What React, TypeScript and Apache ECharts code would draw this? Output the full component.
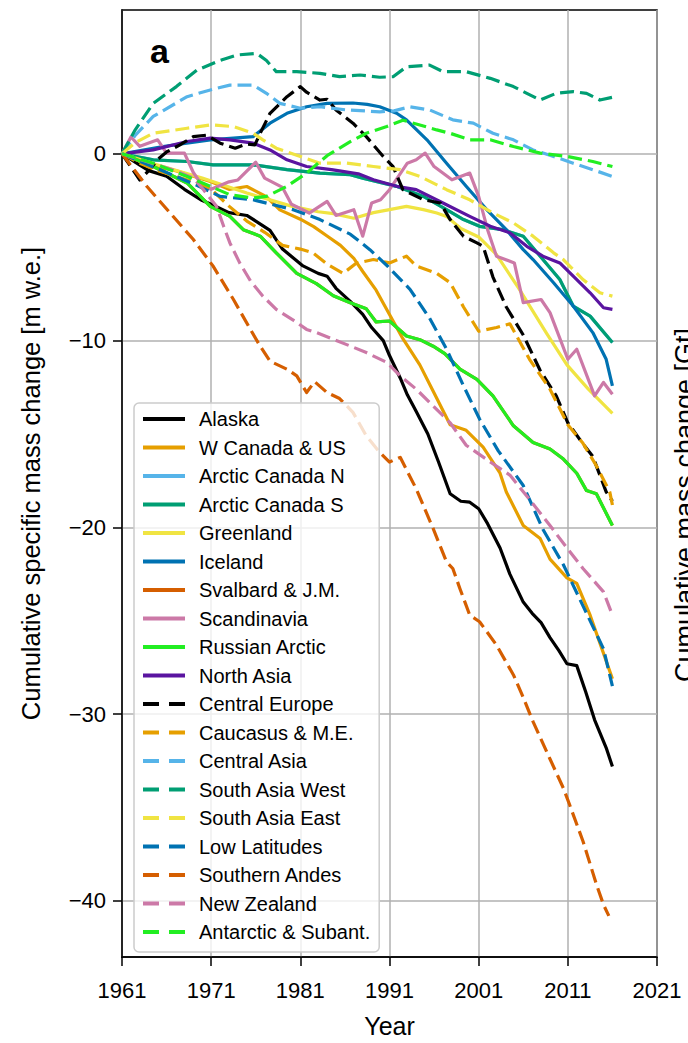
import React, { useEffect, useRef } from "react";
import * as echarts from "echarts";

const FONT = '"Liberation Sans", Arial, Helvetica, sans-serif';

const alaska: [number, number][] = [[1961,0],[1962,-0.3],[1963,-0.6],[1964,-0.9],[1966,-1.2],[1968,-1.9],[1970,-2.5],[1971,-2.7],[1973,-3.15],[1975,-3.3],[1976,-3.6],[1977.6,-4.1],[1979,-5.1],[1981.3,-6.0],[1983,-6.4],[1984,-6.55],[1985,-7.2],[1986.6,-7.9],[1988,-8.6],[1989,-9.3],[1990.3,-10.0],[1991,-10.8],[1992.2,-12.0],[1993,-12.9],[1994,-13.8],[1995.3,-15.0],[1996.5,-16.5],[1997.8,-18.2],[1999,-18.6],[2000,-18.65],[2001,-19.0],[2002,-19.8],[2003.4,-21.1],[2004.5,-22.5],[2006,-24.0],[2007,-24.6],[2008,-25.1],[2009,-25.9],[2010,-26.6],[2010.9,-27.3],[2012,-27.4],[2013,-28.8],[2014,-30.3],[2015.3,-31.8],[2016,-32.8]];
const wCanadaUS: [number, number][] = [[1961,0],[1963,-0.4],[1965,-0.7],[1967,-0.9],[1969,-1.2],[1971,-1.5],[1973,-1.9],[1975,-1.75],[1976,-2.0],[1977.2,-2.3],[1978.7,-3.0],[1981,-3.5],[1982.5,-3.9],[1984,-4.4],[1985.5,-4.9],[1987,-5.6],[1988,-6.3],[1989.5,-7.3],[1991,-8.6],[1992.5,-9.9],[1994.4,-11.3],[1996,-12.8],[1997.8,-14.5],[1999.6,-14.8],[2001.5,-15.7],[2003.4,-17.1],[2004.1,-18.1],[2006,-19.9],[2007.9,-20.6],[2009,-21.7],[2010.9,-22.7],[2012,-23.0],[2013.5,-24.7],[2016,-28.1]];
const arcticCanadaN: [number, number][] = [[1961,0],[1964.5,-0.32],[1968.3,-0.41],[1971.2,-0.59],[1975.7,-0.59],[1979.5,-0.85],[1983.2,-1.03],[1986.6,-1.12],[1988,-1.3],[1991.8,-1.74],[1994.8,-2.28],[1997.4,-2.99],[1999.3,-3.52],[2001.1,-3.88],[2003.7,-4.06],[2006,-4.41],[2007.9,-5.48],[2010.1,-6.73],[2011.6,-8.15],[2013.5,-8.69],[2016,-10.1]];
const arcticCanadaS: [number, number][] = [[1961,0],[1964.5,-0.32],[1968.3,-0.41],[1971.2,-0.59],[1975.7,-0.59],[1979.5,-0.85],[1983.2,-1.03],[1986.6,-1.12],[1988,-1.3],[1991.8,-1.74],[1994.8,-2.28],[1997.4,-2.99],[1999.3,-3.52],[2001.1,-3.88],[2003.7,-4.06],[2006,-4.41],[2007.9,-5.48],[2010.1,-6.73],[2011.6,-8.15],[2013.5,-8.69],[2016,-10.1]];
const greenland: [number, number][] = [[1961,0],[1965,-0.6],[1970,-1.3],[1975,-2.1],[1980,-2.8],[1983,-3.1],[1984.7,-3.2],[1987,-3.45],[1989.2,-3.15],[1991,-2.99],[1992.9,-2.81],[1994.8,-2.99],[1996.3,-3.17],[1997.4,-3.35],[1999,-4.0],[2001,-4.45],[2003,-5.4],[2005.5,-7.2],[2008.6,-9.6],[2010.9,-11.3],[2013.3,-12.6],[2016,-13.9]];
const iceland: [number, number][] = [[1961,0],[1965.6,0.39],[1970.9,0.75],[1975.7,0.92],[1977.6,1.64],[1979.5,2.17],[1981.7,2.52],[1984,2.7],[1986.9,2.72],[1988.5,2.65],[1989.9,2.52],[1991.8,2.17],[1992.9,1.82],[1995.2,0.75],[1997.4,-0.5],[1999.6,-1.74],[2001.9,-2.99],[2004.1,-4.06],[2006,-5.13],[2007.1,-5.66],[2009.4,-6.9],[2011.6,-8.15],[2013.8,-9.57],[2015.3,-11.0],[2016,-12.42]];
const svalbardJM: [number, number][] = [[1961,0],[1964.5,-0.68],[1968.3,-1.56],[1970.9,-2.81],[1973.1,-3.35],[1974.6,-4.06],[1976.5,-4.41],[1978.3,-5.3],[1980.6,-6.4],[1982.8,-6.95],[1984.7,-7.6],[1986.6,-7.97],[1988.4,-8.3],[1989.5,-9.0],[1991,-8.95],[1992.9,-9.75],[1994.4,-9.95],[1995.9,-10.3],[1997.2,-10.7],[1998.9,-11.53],[2000.8,-12.07],[2002.6,-12.96],[2004.9,-14.56],[2007.1,-15.45],[2009,-15.8],[2010.5,-16.34],[2012,-17.1],[2013.1,-18.03],[2014.2,-18.2],[2016,-19.9]];
const scandinavia: [number, number][] = [[1961,0],[1962,0.9],[1963,0.4],[1965,0.75],[1966,0.04],[1968,0.04],[1969,-1.0],[1970,-1.7],[1971,-1.9],[1973,-1.5],[1974,-1.4],[1976,-0.45],[1977,-1.3],[1979,-1.8],[1980,-2.7],[1982,-3.17],[1984,-2.55],[1985,-3.3],[1987,-2.99],[1988,-4.41],[1989,-2.63],[1990,-2.46],[1991,-1.92],[1993,-0.5],[1994,-0.32],[1995,0.04],[1996,-0.68],[1998,-1.39],[2000,-1.03],[2001,-2.28],[2002,-4.06],[2003,-5.48],[2005,-5.84],[2006,-7.97],[2008,-7.8],[2009,-8.5],[2011,-11.0],[2012,-10.46],[2014,-12.96],[2015,-12.24],[2016,-12.87]];
const russianArctic: [number, number][] = [[1961,0],[1964.5,-0.68],[1968.3,-1.56],[1970.9,-2.81],[1973.1,-3.35],[1974.6,-4.06],[1976.5,-4.41],[1978.3,-5.3],[1980.6,-6.4],[1982.8,-6.95],[1984.7,-7.6],[1986.6,-7.97],[1988.4,-8.3],[1989.5,-9.0],[1991,-8.95],[1992.9,-9.75],[1994.4,-9.95],[1995.9,-10.3],[1997.2,-10.7],[1998.9,-11.53],[2000.8,-12.07],[2002.6,-12.96],[2004.9,-14.56],[2007.1,-15.45],[2009,-15.8],[2010.5,-16.34],[2012,-17.1],[2013.1,-18.03],[2014.2,-18.2],[2016,-19.9]];
const northAsia: [number, number][] = [[1961,0],[1964.5,0.21],[1968.3,0.66],[1970.9,0.84],[1973.1,0.75],[1975.7,0.57],[1977.6,0.21],[1979.5,-0.32],[1981.7,-0.68],[1984.5,-0.85],[1987.5,-1.07],[1989.2,-1.39],[1991.8,-1.74],[1994,-1.92],[1997,-2.63],[2000,-3.35],[2002.3,-3.88],[2004.5,-4.23],[2006.4,-4.95],[2008.2,-5.48],[2010.1,-5.84],[2012,-6.73],[2013.5,-7.44],[2015,-8.24],[2016,-8.33]];
const centralEurope: [number, number][] = [[1961,0],[1962,-0.7],[1963,-1.4],[1964,-0.9],[1965,-0.3],[1966,0.1],[1967.5,0.48],[1969,0.92],[1970.5,1.0],[1972,0.57],[1973.7,0.3],[1975,0.53],[1975.9,0.48],[1976.5,1.1],[1977.6,2.17],[1979.5,3.06],[1981,3.6],[1981.7,3.3],[1983.2,2.88],[1984,2.92],[1985,2.35],[1986.9,1.64],[1988.4,0.92],[1990.3,-0.14],[1991.4,-0.68],[1992.5,-1.92],[1994.8,-2.46],[1996.7,-2.63],[1997.8,-3.52],[1999.3,-4.41],[2000.8,-4.77],[2001.5,-4.95],[2002.6,-6.6],[2004.1,-8.2],[2006,-9.7],[2007.9,-11.6],[2009.7,-12.96],[2011,-14.4],[2012.5,-15.4],[2013.8,-16.2],[2015.3,-18.1],[2016,-18.6]];
const caucasusME: [number, number][] = [[1961,0],[1963,-0.5],[1965,-0.9],[1967,-1.2],[1969,-1.5],[1971,-1.9],[1973,-2.8],[1975,-3.6],[1977,-4.2],[1979,-4.9],[1981,-5.1],[1982.4,-5.3],[1984,-5.9],[1985.8,-6.4],[1987.3,-5.85],[1989.2,-5.66],[1991,-5.84],[1992.9,-5.48],[1994,-6.0],[1996.3,-6.4],[1997.8,-6.9],[1999.3,-8.2],[2001,-9.5],[2003,-9.3],[2004.5,-9.1],[2006.7,-11.0],[2009,-12.6],[2011,-14.5],[2012.7,-15.5],[2014.2,-16.7],[2015.7,-18.1],[2016,-18.8]];
const centralAsia: [number, number][] = [[1961,0],[1962.5,1.0],[1964.5,2.0],[1968.3,3.06],[1970.9,3.42],[1973.1,3.68],[1975.7,3.68],[1977.2,3.24],[1978.7,2.7],[1981,2.44],[1983.2,2.52],[1986.2,2.35],[1989.9,2.25],[1991.5,2.3],[1993.3,2.52],[1995.5,2.35],[1998.1,1.82],[2000.4,1.64],[2002.6,1.1],[2004.9,0.75],[2007.1,0.21],[2009.4,-0.14],[2011.6,-0.5],[2013.8,-0.85],[2016,-1.21]];
const southAsiaWest: [number, number][] = [[1961,0],[1962.5,1.3],[1964.5,2.7],[1967.1,3.6],[1969.4,4.48],[1972,5.0],[1973.9,5.29],[1976.1,5.38],[1977.2,5.0],[1978.3,4.4],[1980.6,4.4],[1983.2,4.31],[1985.4,4.13],[1987.7,4.22],[1989.9,4.1],[1991.4,4.13],[1992.9,4.66],[1995.5,4.75],[1997,4.4],[1999.6,4.4],[2002.3,4.04],[2004.9,3.6],[2006.4,3.24],[2007.9,2.88],[2009.7,3.24],[2011.6,3.33],[2013.1,3.24],[2014.6,2.88],[2016,3.03]];
const southAsiaEast: [number, number][] = [[1961,0],[1962.5,0.6],[1964.5,1.1],[1968.3,1.37],[1970.9,1.55],[1973.5,1.46],[1975.7,1.1],[1976.8,0.75],[1978.3,0.3],[1981,-0.14],[1983.2,-0.5],[1986.2,-0.5],[1989.2,-0.68],[1992.2,-0.85],[1994.4,-1.21],[1997.4,-1.92],[2000,-2.46],[2002.6,-3.17],[2004.9,-3.7],[2007.1,-4.41],[2009.4,-5.3],[2010.5,-5.66],[2012.7,-6.73],[2014.6,-7.44],[2016,-7.62]];
const lowLatitudes: [number, number][] = [[1961,0],[1965,-0.8],[1969,-1.6],[1972,-2.28],[1975.7,-2.46],[1980.2,-2.99],[1983.2,-3.52],[1986.6,-4.3],[1988.8,-5.13],[1990.8,-6.02],[1993.3,-7.26],[1995.5,-8.8],[1997.4,-10.46],[1999.3,-12.42],[2001.1,-14.2],[2003.2,-15.9],[2006,-17.76],[2008.2,-20.1],[2010.5,-22.0],[2012.7,-24.2],[2015,-26.5],[2016,-28.5]];
const southernAndes: [number, number][] = [[1961,0],[1963.8,-1.75],[1966.4,-3.17],[1969,-4.59],[1971.2,-6.0],[1973.5,-7.8],[1975.4,-9.4],[1976.5,-10.3],[1977.6,-11.1],[1979.5,-11.53],[1980.6,-11.89],[1981.7,-12.78],[1982.6,-12.2],[1984,-12.78],[1985.4,-13.1],[1986.9,-13.84],[1988.4,-15.1],[1989.9,-15.98],[1991,-16.5],[1992.2,-16.25],[1994,-17.94],[1995.9,-20.07],[1997.4,-21.85],[1998.1,-22.2],[1998.9,-23.28],[2000,-24.7],[2001.1,-25.05],[2003,-26.3],[2004.9,-27.9],[2006,-29.1],[2007.1,-30.4],[2009,-32.4],[2010.5,-33.96],[2011.2,-34.85],[2012.7,-36.8],[2014.2,-39.1],[2015,-40.2],[2015.6,-40.8]];
const newZealand: [number, number][] = [[1961,0],[1963,-0.3],[1965,-0.6],[1967,-0.9],[1969,-1.3],[1970.1,-1.9],[1971.6,-2.81],[1972.4,-3.88],[1973.1,-4.77],[1974.2,-5.84],[1975.4,-6.8],[1976.8,-7.62],[1978.3,-8.33],[1980.2,-8.9],[1981.7,-9.4],[1982.8,-9.57],[1984.7,-9.93],[1986.6,-10.29],[1988.4,-10.64],[1990.7,-11.17],[1992.2,-11.89],[1994,-12.6],[1995.9,-13.5],[1997.8,-14.4],[1999.6,-15.6],[2002.3,-16.5],[2004.5,-17.2],[2006.7,-18.5],[2009,-19.9],[2010.9,-21.1],[2012.7,-22.2],[2015,-23.45],[2016,-24.7]];
const antarcticSubant: [number, number][] = [[1961,0],[1964.5,-0.5],[1968.3,-1.21],[1970.9,-1.74],[1973.1,-2.19],[1975.7,-2.37],[1977.2,-2.28],[1979.5,-1.74],[1981.7,-1.03],[1984,-0.1],[1986.6,0.65],[1988.4,1.1],[1990.7,1.46],[1992.5,1.8],[1993.7,1.64],[1996.3,1.28],[1997.8,1.1],[2000,0.75],[2002.3,0.75],[2004.9,0.39],[2007.9,0.04],[2010.9,-0.14],[2013.8,-0.41],[2016,-0.68]];

const regionNames = ["Alaska","W Canada & US","Arctic Canada N","Arctic Canada S","Greenland","Iceland","Svalbard & J.M.","Scandinavia","Russian Arctic","North Asia","Central Europe","Caucasus & M.E.","Central Asia","South Asia West","South Asia East","Low Latitudes","Southern Andes","New Zealand","Antarctic & Subant."];
const regionData = [alaska,wCanadaUS,arcticCanadaN,arcticCanadaS,greenland,iceland,svalbardJM,scandinavia,russianArctic,northAsia,centralEurope,caucasusME,centralAsia,southAsiaWest,southAsiaEast,lowLatitudes,southernAndes,newZealand,antarcticSubant];
const palette = ["#000000","#E69F00","#56B4E9","#009E73","#F0E442","#0072B2","#D55E00","#CC79A7","#22EE22","#5A14A0"];

const xTicks = [1961, 1971, 1981, 1991, 2001, 2011, 2021];
const yTicks = [-40, -30, -20, -10, 0];

export default function App() {
  const ref = useRef<HTMLDivElement>(null);
  useEffect(() => {
    document.body.style.margin = "0";
    const chart = echarts.init(ref.current!, null, { renderer: "svg" });
    const series = regionNames.map((name, i) => {
      const dashed = i >= 10;
      const color = dashed ? palette[i - 10] : palette[i];
      return {
        type: "line",
        name,
        data: regionData[i],
        showSymbol: false,
        symbol: "none",
        silent: true,
        lineStyle: { color, width: 3.2, type: dashed ? [14, 6] : "solid", cap: "butt", join: "round" },
        itemStyle: { color },
        emphasis: { disabled: true },
      };
    });
    const legendData = regionNames.map((name, i) => ({
      name,
      itemStyle: { opacity: 0, color: "rgba(0,0,0,0)", borderWidth: 0 },
      lineStyle: { width: 4, opacity: 1, type: i >= 10 ? [16, 10] : "solid" },
    }));
    chart.setOption({
      animation: false,
      backgroundColor: "#ffffff",
      textStyle: { fontFamily: FONT },
      grid: { left: 122, top: 10, width: 535, height: 950, show: true, borderColor: "#000", borderWidth: 1.5, backgroundColor: "transparent" },
      xAxis: {
        type: "value",
        min: xTicks[0],
        max: xTicks[xTicks.length - 1],
        interval: 10,
        name: "Year",
        nameLocation: "middle",
        nameGap: 56,
        nameTextStyle: { fontSize: 25, color: "#000", fontFamily: FONT },
        axisLine: { show: true, onZero: false, lineStyle: { color: "#000", width: 1.5 } },
        axisTick: { show: true, inside: false, length: 9, lineStyle: { color: "#000", width: 1.5 } },
        axisLabel: { fontSize: 22, color: "#000", margin: 22, fontFamily: FONT, formatter: (v: number) => String(v) },
        splitLine: { show: true, lineStyle: { color: "#b0b0b0", width: 1.5 } },
      },
      yAxis: {
        type: "value",
        min: -43,
        max: 7.7,
        splitNumber: 5,
        name: "Cumulative specific mass change [m w.e.]",
        nameLocation: "middle",
        nameGap: 78,
        nameTextStyle: { fontSize: 25.5, color: "#000", fontFamily: FONT },
        axisLine: { show: true, onZero: false, lineStyle: { color: "#000", width: 1.5 } },
        axisTick: { show: true, inside: false, length: 9, lineStyle: { color: "#000", width: 1.5 }, customValues: yTicks },
        axisLabel: {
          fontSize: 22, color: "#000", margin: 16, fontFamily: FONT, customValues: yTicks,
          formatter: (v: number) => (v < 0 ? "\u2212" + Math.abs(v) : String(v)),
        },
        splitLine: { show: true, lineStyle: { color: "#b0b0b0", width: 1.5 } },
      },
      legend: {
        orient: "vertical",
        left: 134,
        top: 403,
        padding: [6, 9, 10, 7],
        itemGap: 8.5,
        itemWidth: 42,
        itemHeight: 14,
        backgroundColor: "rgba(255,255,255,0.8)",
        borderColor: "#cccccc",
        borderWidth: 1.5,
        borderRadius: 5,
        selectedMode: false,
        itemStyle: { opacity: 0 },
        textStyle: { fontSize: 20, color: "#000", fontFamily: FONT, padding: [0, 0, 0, 9] },
        data: legendData,
      },
      graphic: [
        { type: "text", left: 150, top: 34, style: { text: "a", font: `bold 34px ${FONT}`, fill: "#000" } },
        { type: "text", x: 671, y: 505, rotation: Math.PI / 2, style: { text: "Cumulative mass change [Gt]", fontSize: 27, fontFamily: FONT, fill: "#000", align: "center", verticalAlign: "top" } },
      ],
      series,
    });
    return () => chart.dispose();
  }, []);
  return <div ref={ref} style={{ position: "absolute", left: 0, top: 0, width: 688, height: 1043 }} />;
}
